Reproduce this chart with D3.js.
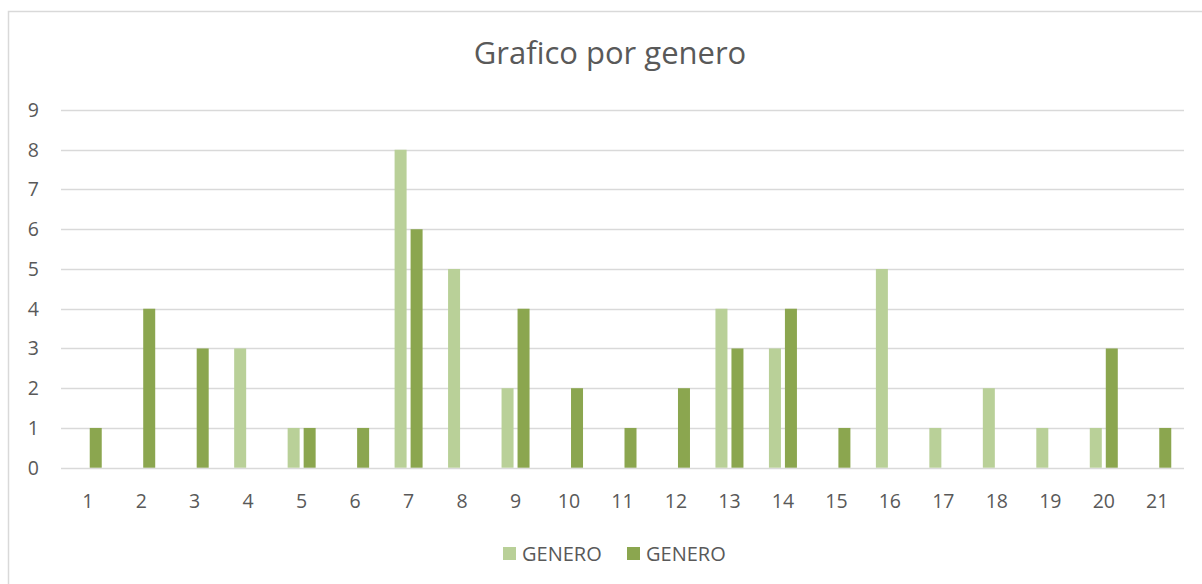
<!DOCTYPE html>
<html>
<head>
<meta charset="utf-8">
<script src="https://cdn.jsdelivr.net/npm/d3@7"></script>
<style>
  body { margin: 0; background: #fff; }
  svg text { font-family: "Open Sans", "Liberation Sans", sans-serif; fill: #595959; }
</style>
</head>
<body>
<div id="grafico"></div>
<script>
const categorias = ['1','2','3','4','5','6','7','8','9','10','11','12','13','14','15','16','17','18','19','20','21'];
const serieClara = [0, 0, 0, 3, 1, 0, 8, 5, 2, 0, 0, 0, 4, 3, 0, 5, 1, 2, 1, 1, 0];
const serieEscura = [1, 4, 3, 0, 1, 1, 6, 0, 4, 2, 1, 2, 3, 4, 1, 0, 0, 0, 0, 3, 1];
const nomesSeries = ['GENERO', 'GENERO'];
const ticksY = [0, 1, 2, 3, 4, 5, 6, 7, 8, 9];

const width = 1202, height = 584;
const cores = ['#b9d098', '#8ba64f'];

const svg = d3.select('#grafico')
  .append('svg')
  .attr('width', width)
  .attr('height', height);

// moldura da area do grafico
svg.append('rect')
  .attr('x', 8.5).attr('y', 11.5)
  .attr('width', 1300).attr('height', 700)
  .attr('fill', 'none')
  .attr('stroke', '#d9d9d9')
  .attr('stroke-width', 1.5);

svg.append('text')
  .attr('x', 610).attr('y', 64)
  .attr('text-anchor', 'middle')
  .style('font-size', '31px')
  .text('Grafico por genero');

const x = d3.scaleBand().domain(categorias).range([61, 1184]);
const y = d3.scaleLinear().domain([0, 9]).range([467.7, 110]);

// linhas de grade
svg.selectAll('line.grade')
  .data(ticksY)
  .enter()
  .append('line')
  .attr('class', 'grade')
  .attr('x1', 61).attr('x2', 1184)
  .attr('y1', d => Math.round(y(d)) + 0.5)
  .attr('y2', d => Math.round(y(d)) + 0.5)
  .attr('stroke', '#d9d9d9')
  .attr('stroke-width', 1.3);

svg.selectAll('text.ty')
  .data(ticksY)
  .enter()
  .append('text')
  .attr('class', 'ty')
  .attr('x', 39)
  .attr('y', d => y(d) + 7)
  .attr('text-anchor', 'end')
  .style('font-size', '19.5px')
  .text(d => d);

svg.selectAll('text.tx')
  .data(categorias)
  .enter()
  .append('text')
  .attr('class', 'tx')
  .attr('x', d => x(d) + x.bandwidth() / 2)
  .attr('y', 507.5)
  .attr('text-anchor', 'middle')
  .style('font-size', '19.5px')
  .text(d => d);

const larguraBarra = 12;
const series = [serieClara, serieEscura];
const deslocamento = [-14, 2];

series.forEach((serie, i) => {
  svg.selectAll(`rect.s${i}`)
    .data(serie.map((v, j) => ({ cat: categorias[j], valor: v })).filter(d => d.valor > 0))
    .enter()
    .append('rect')
    .attr('class', `s${i}`)
    .attr('x', d => x(d.cat) + x.bandwidth() / 2 + deslocamento[i])
    .attr('y', d => y(d.valor))
    .attr('width', larguraBarra)
    .attr('height', d => y(0) - y(d.valor))
    .attr('fill', cores[i]);
});

// legenda
const legendaX = [503, 627];
nomesSeries.forEach((nome, i) => {
  svg.append('rect')
    .attr('x', legendaX[i]).attr('y', 547)
    .attr('width', 13).attr('height', 13)
    .attr('fill', cores[i]);
  svg.append('text')
    .attr('x', legendaX[i] + 19).attr('y', 560.5)
    .style('font-size', '20px')
    .text(nome);
});
</script>
</body>
</html>
